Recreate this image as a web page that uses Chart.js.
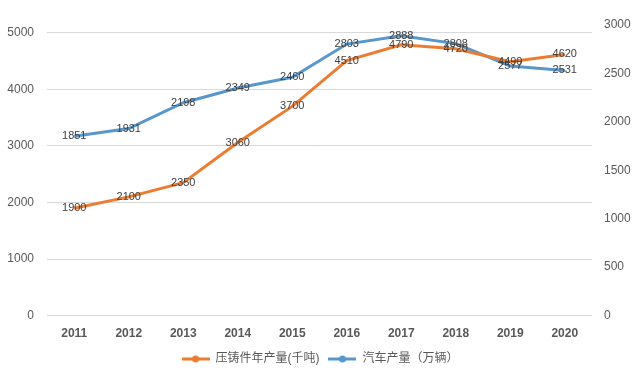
<!DOCTYPE html>
<html>
<head>
<meta charset="utf-8">
<script src="https://cdn.jsdelivr.net/npm/chart.js@4.4.1/dist/chart.umd.min.js"></script>
<style>
  html, body { margin: 0; padding: 0; background: #fff; }
  #wrap { width: 640px; height: 375px; }
</style>
</head>
<body>
<div id="wrap"><canvas id="chart"></canvas></div>
<script>
const years = ["2011", "2012", "2013", "2014", "2015", "2016", "2017", "2018", "2019", "2020"];
const dieCasting = [1900, 2100, 2350, 3060, 3700, 4510, 4790, 4720, 4490, 4620];
const carOutput = [1851, 1931, 2198, 2349, 2460, 2803, 2888, 2808, 2577, 2531];
const leftTicks = [0, 1000, 2000, 3000, 4000, 5000];
const rightTicks = [0, 500, 1000, 1500, 2000, 2500, 3000];
const leftMax = 5140;
const rightMax = 3000;

const orange = "#EB7D33";
const blue = "#5897CC";
const font = "'Liberation Sans', 'Noto Sans CJK SC', sans-serif";

// legend marker: short line with a dot
function marker(color) {
    const c = document.createElement("canvas");
    c.width = 28; c.height = 8;
    const g = c.getContext("2d");
    g.strokeStyle = color; g.lineWidth = 3;
    g.beginPath(); g.moveTo(0, 4); g.lineTo(28, 4); g.stroke();
    g.fillStyle = color;
    g.beginPath(); g.arc(14, 4, 3.5, 0, Math.PI * 2); g.fill();
    return c;
}

const valueLabels = {
    id: "valueLabels",
    afterDatasetsDraw(chart) {
        const ctx = chart.ctx;
        ctx.save();
        ctx.font = "11px " + font;
        ctx.fillStyle = "#404040";
        ctx.textAlign = "center";
        ctx.textBaseline = "middle";
        chart.data.datasets.forEach((ds, i) => {
            chart.getDatasetMeta(i).data.forEach((pt, j) => {
                ctx.fillText(ds.data[j], pt.x, pt.y);
            });
        });
        ctx.restore();
    }
};

new Chart(document.getElementById("chart"), {
    type: "line",
    data: {
        labels: years,
        datasets: [{
            label: "压铸件年产量(千吨)",
            data: dieCasting,
            yAxisID: "y",
            borderColor: orange,
            backgroundColor: orange,
            borderWidth: 3,
            pointRadius: 0,
            tension: 0
        }, {
            label: "汽车产量（万辆）",
            data: carOutput,
            yAxisID: "y2",
            borderColor: blue,
            backgroundColor: blue,
            borderWidth: 3,
            pointRadius: 0,
            tension: 0
        }]
    },
    options: {
        responsive: true,
        maintainAspectRatio: false,
        animation: false,
        layout: { padding: { top: 25, left: 0, right: 0, bottom: 0 } },
        plugins: {
            tooltip: { enabled: false },
            legend: {
                position: "bottom",
                labels: {
                    usePointStyle: true,
                    pointStyleWidth: 28,
                    padding: 9,
                    color: "#595959",
                    font: { size: 12, family: font },
                    generateLabels(chart) {
                        return chart.data.datasets.map((ds, i) => ({
                            text: ds.label,
                            pointStyle: marker(ds.borderColor),
                            fontColor: "#595959",
                            lineWidth: 0,
                            strokeStyle: "transparent",
                            fillStyle: ds.borderColor,
                            datasetIndex: i
                        }));
                    }
                }
            }
        },
        scales: {
            x: {
                offset: true,
                grid: { display: false },
                border: { display: false },
                ticks: { color: "#595959", font: { size: 12, weight: "bold", family: font }, padding: 3 }
            },
            y: {
                position: "left",
                min: 0,
                max: leftMax,
                afterBuildTicks(scale) { scale.ticks = leftTicks.map(v => ({ value: v })); },
                afterFit(scale) { scale.width = 47; },
                grid: { color: "#D9D9D9", lineWidth: 1, drawTicks: false },
                border: { display: false },
                ticks: { color: "#595959", font: { size: 12, family: font }, padding: 13, callback: v => String(v) }
            },
            y2: {
                position: "right",
                min: 0,
                max: rightMax,
                afterBuildTicks(scale) { scale.ticks = rightTicks.map(v => ({ value: v })); },
                afterFit(scale) { scale.width = 48; },
                grid: { display: false, drawTicks: false },
                border: { display: false },
                ticks: { color: "#595959", font: { size: 12, family: font }, padding: 12, callback: v => String(v) }
            }
        }
    },
    plugins: [valueLabels]
});
</script>
</body>
</html>
